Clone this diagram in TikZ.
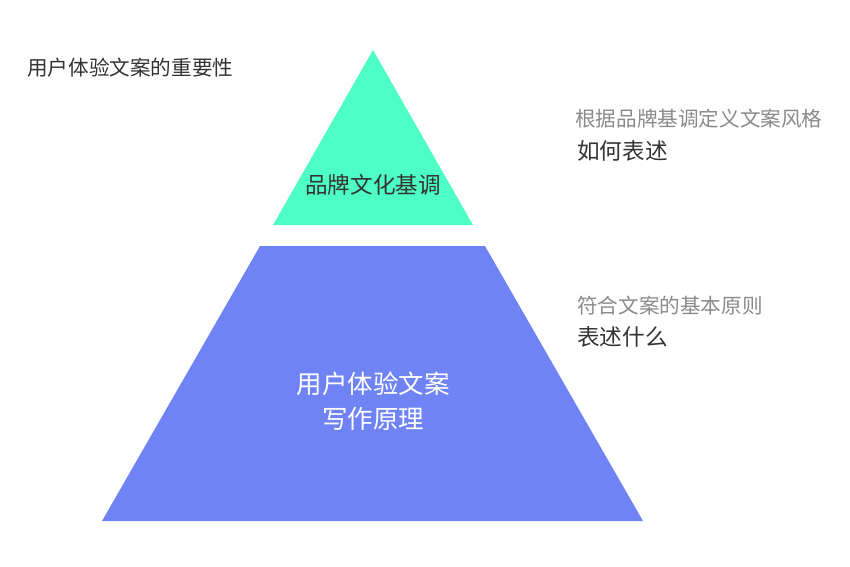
\documentclass[tikz,border=0pt]{standalone}
\usepackage{fontspec}
\setmainfont{Noto Sans CJK SC}
\usepackage{xcolor}
\usetikzlibrary{positioning}
\definecolor{mint}{HTML}{4DFFC4}
\definecolor{periwinkle}{HTML}{7083F5}
\definecolor{darktext}{HTML}{333333}
\definecolor{softtext}{HTML}{8A8A8A}

\begin{document}
\begin{tikzpicture}[
        x=1pt, y=-1pt,
        note/.style={inner sep=0pt, anchor=west, text=darktext, font=\fontsize{20.6}{24}\selectfont},
        hint/.style={inner sep=0pt, anchor=west, text=softtext, font=\fontsize{20.6}{24}\selectfont},
        answer/.style={inner sep=0pt, text=darktext, font=\fontsize{22.6}{26}\selectfont}
    ]
        \useasboundingbox (0,0) rectangle (850,566);

        % Title
        \node[note] (title) at (27,68) {用户体验文案的重要性};

        % Top layer
        \fill[mint] (373,50) -- (473,225) -- (273,225) -- cycle;
        \node[answer] (brand) at (373,185) {品牌文化基调};

        % Bottom layer
        \fill[periwinkle] (260,246) -- (485,246) -- (643,521) -- (102,521) -- cycle;
        \node[inner sep=0pt, text=white, align=center, font=\fontsize{25.5}{35}\selectfont] (base) at (373,401) {用户体验文案\\写作原理};

        % Right side notes
        \node[hint] (howhint) at (575,119) {根据品牌基调定义文案风格};
        \node[answer, below right=12pt and 2pt of howhint.south west] (how) {如何表述};
        \node[hint] (whathint) at (577,306) {符合文案的基本原则};
        \node[answer, below right=11pt and 0pt of whathint.south west] (what) {表述什么};
    \end{tikzpicture}
\end{document}
